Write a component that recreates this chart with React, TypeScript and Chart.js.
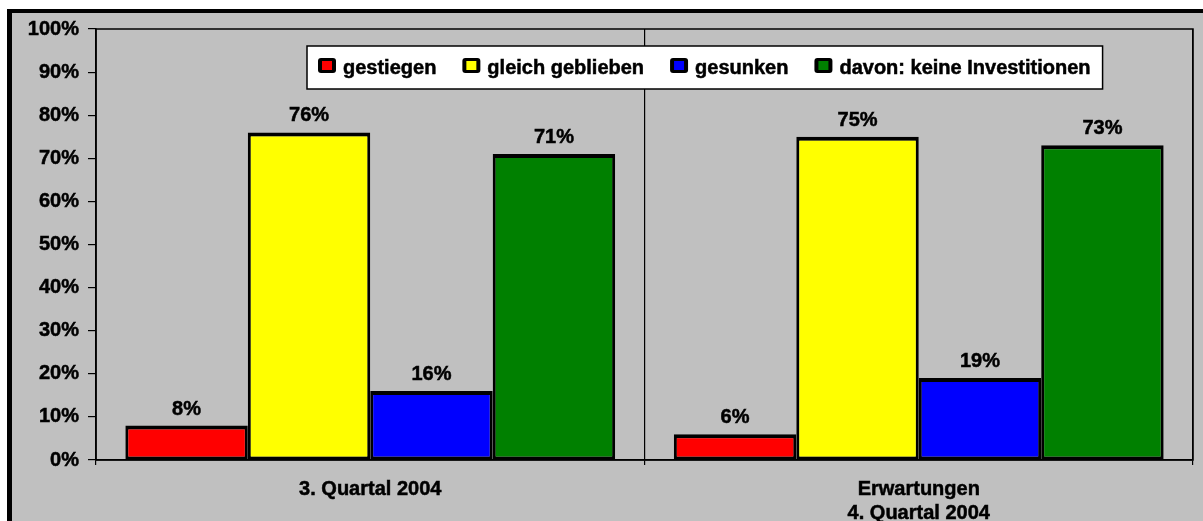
import React, { useEffect, useRef } from "react";
import { Chart, registerables } from "chart.js";

Chart.register(...registerables);

// ---- data ----
const categories: (string | string[])[] = ["3. Quartal 2004", ["Erwartungen", "4. Quartal 2004"]];
const seriesNames = ["gestiegen", "gleich geblieben", "gesunken", "davon: keine Investitionen"];
const gestiegen = [8, 6];
const gleichGeblieben = [76, 75];
const gesunken = [16, 19];
const keineInvestitionen = [71, 73];
const seriesColors = ["#FF0000", "#FFFF00", "#0000FF", "#008000"];
const yMin = 0;
const yMax = 100;
const yStep = 10;

const FONT = "'Liberation Sans', Arial, Helvetica, sans-serif";
const FS = 20;
const STROKE = 0.5;

const decorPlugin = {
  id: "decor",
  beforeDraw(chart: any) {
    const { ctx, width, height } = chart;
    ctx.save();
    ctx.fillStyle = "#FFFFFF";
    ctx.fillRect(0, 0, width, height);
    ctx.fillStyle = "#000000";
    ctx.fillRect(7, 9, width, height);
    ctx.fillStyle = "#C0C0C0";
    ctx.fillRect(12, 13, width, height);
    ctx.restore();
  },
  afterDraw(chart: any) {
    const { ctx, chartArea: a } = chart;
    ctx.save();
    // plot area border
    ctx.strokeStyle = "#000";
    ctx.lineWidth = 1.5;
    ctx.strokeRect(a.left, a.top, a.right - a.left, a.bottom - a.top);

    // value labels
    ctx.fillStyle = "#000";
    ctx.strokeStyle = "#000";
    ctx.lineWidth = STROKE;
    ctx.font = `bold ${FS}px ${FONT}`;
    ctx.textAlign = "center";
    ctx.textBaseline = "alphabetic";
    chart.data.datasets.forEach((ds: any, i: number) => {
      const meta = chart.getDatasetMeta(i);
      meta.data.forEach((bar: any, j: number) => {
        const t = `${ds.data[j]}%`;
        ctx.fillText(t, bar.x, bar.y - 11);
        ctx.strokeText(t, bar.x, bar.y - 11);
      });
    });

    // legend
    ctx.textAlign = "left";
    const x0 = 307;
    const y0 = 46;
    const h = 43;
    const padL = 11;
    const padR = 12;
    const sq = 18;
    const gap = 7;
    const spacing = 26;
    const widths = chart.data.datasets.map((ds: any) => ctx.measureText(ds.label).width);
    let total = padL + padR;
    widths.forEach((w: number, i: number) => {
      total += sq + gap + w + (i < widths.length - 1 ? spacing : 0);
    });
    ctx.fillStyle = "#FFFFFF";
    ctx.fillRect(x0, y0, total, h);
    ctx.strokeStyle = "#000";
    ctx.lineWidth = 1.5;
    ctx.strokeRect(x0, y0, total, h);
    let x = x0 + padL;
    chart.data.datasets.forEach((ds: any, i: number) => {
      ctx.fillStyle = "#000";
      ctx.beginPath();
      (ctx as any).roundRect(x, 58, sq, 15, 3);
      ctx.fill();
      ctx.fillStyle = ds.backgroundColor;
      ctx.fillRect(x + 4, 61, 10, 9);
      ctx.fillStyle = "#000";
      ctx.lineWidth = STROKE;
      ctx.fillText(ds.label, x + sq + gap, 74);
      ctx.strokeText(ds.label, x + sq + gap, 74);
      x += sq + gap + widths[i] + spacing;
    });
    ctx.restore();
  },
};

export default function App() {
  const ref = useRef<HTMLCanvasElement | null>(null);

  useEffect(() => {
    if (!ref.current) return;
    const values = [gestiegen, gleichGeblieben, gesunken, keineInvestitionen];
    const chart = new Chart(ref.current, {
      type: "bar",
      data: {
        labels: categories as any,
        datasets: seriesNames.map((name, i) => ({
          label: name,
          data: values[i],
          backgroundColor: seriesColors[i],
          borderColor: "#000000",
          borderWidth: { top: 4, left: 3, right: 3, bottom: 3 },
          borderSkipped: false,
          categoryPercentage: 0.893,
          barPercentage: 1,
        })),
      },
      options: {
        responsive: false,
        animation: false,
        events: [],
        layout: { padding: { left: 0, top: 29, right: 10, bottom: 0 } },
        plugins: {
          legend: { display: false },
          tooltip: { enabled: false },
        },
        scales: {
          x: {
            offset: true,
            grid: {
              offset: true,
              color: "#000",
              lineWidth: 1.2,
              tickLength: 5,
              drawOnChartArea: true,
            },
            border: { color: "#000", width: 1.5 },
            ticks: {
              color: "#000",
              font: { family: FONT, size: FS, weight: "bold" },
              textStrokeColor: "#000",
              textStrokeWidth: STROKE,
              padding: 12,
              maxRotation: 0,
              autoSkip: false,
            },
            afterFit: (s: any) => {
              s.height = 61;
            },
          },
          y: {
            min: yMin,
            max: yMax,
            ticks: {
              stepSize: yStep,
              color: "#000",
              font: { family: FONT, size: FS, weight: "bold" },
              textStrokeColor: "#000",
              textStrokeWidth: STROKE,
              padding: 9,
              callback: (v: any) => `${v}%`,
            },
            grid: {
              drawOnChartArea: false,
              drawTicks: true,
              tickLength: 8,
              color: "#000",
              lineWidth: 1.2,
            },
            border: { color: "#000", width: 1.5 },
            afterFit: (s: any) => {
              s.width = 96;
            },
          },
        },
      } as any,
      plugins: [decorPlugin],
    });
    return () => chart.destroy();
  }, []);

  return (
    <div style={{ position: "absolute", left: 0, top: 0, width: 1203, height: 521 }}>
      <canvas ref={ref} width={1203} height={521} style={{ display: "block", width: 1203, height: 521 }} />
    </div>
  );
}
